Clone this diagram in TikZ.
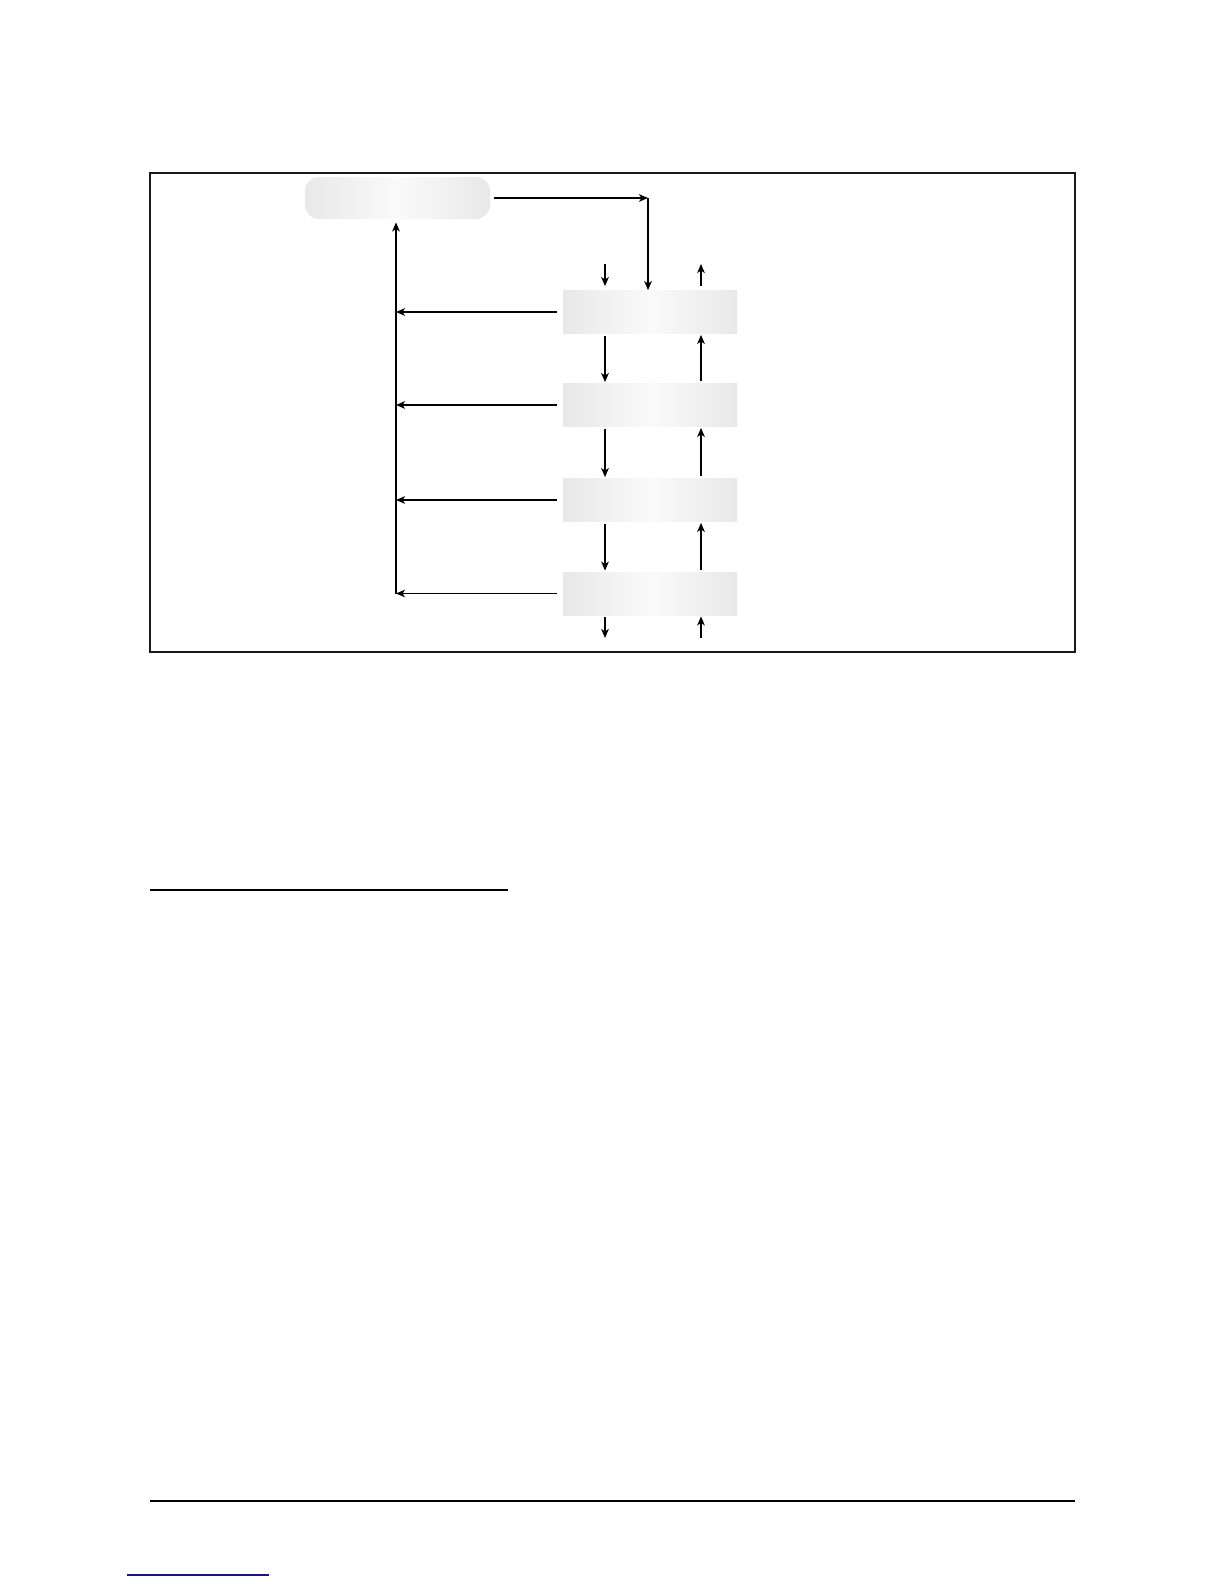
\documentclass[tikz,border=0pt]{standalone}
\usetikzlibrary{arrows.meta,shadings}
\begin{document}
\begin{tikzpicture}[x=0.5pt,y=-0.5pt,
  arr/.style={line width=0.6pt,-{Stealth[length=4.5pt,width=3.8pt,inset=1.2pt]}},
  ln/.style={line width=0.6pt},
  stagebox/.style={draw=none,minimum width=87pt,minimum height=21.5pt,inner sep=0pt,
    left color=black!9,right color=black!9,middle color=black!2},
  topbox/.style={draw=none,rounded corners=7pt,minimum width=92.5pt,minimum height=21pt,inner sep=0pt,
    left color=black!9,right color=black!9,middle color=black!2},
  framebox/.style={line width=1pt,draw=black!90}
]
\useasboundingbox (0,0) rectangle (1224,1584);
\fill[white] (0,0) rectangle (1224,1584);

% frame
\draw[framebox] (150,172.7) rectangle (1075,651.7);

% nodes
\node[topbox] (top) at (397.5,198) {};
\node[stagebox] (b1) at (650,312) {};
\node[stagebox] (b2) at (650,405) {};
\node[stagebox] (b3) at (650,500) {};
\node[stagebox] (b4) at (650,593.5) {};

% helper coordinates
\coordinate (lx) at (605,0);
\coordinate (rx) at (701,0);
\coordinate (lv) at (396,593.5);
\coordinate (tr) at (648,198);
\coordinate (inL) at (605,264);
\coordinate (outR) at (701,264);
\coordinate (botL) at (605,638);
\coordinate (botR) at (701,638);

% top box to first stage
\draw[arr] ([xshift=2pt]top.east) -- (tr);
\draw[arr] (tr) -- (b1.north -| tr);

% external in/out at top of first stage
\draw[arr] (inL) -- ([yshift=2pt]b1.north -| lx);
\draw[arr] ([yshift=2pt]b1.north -| rx) -- (outR);

% between stages
\draw[arr,shorten <=1pt,shorten >=0.5pt] (b1.south -| lx) -- (b2.north -| lx);
\draw[arr,shorten <=1pt,shorten >=0.5pt] (b2.north -| rx) -- (b1.south -| rx);
\draw[arr,shorten <=1pt,shorten >=0.5pt] (b2.south -| lx) -- (b3.north -| lx);
\draw[arr,shorten <=1pt,shorten >=0.5pt] (b3.north -| rx) -- (b2.south -| rx);
\draw[arr,shorten <=1pt,shorten >=0.5pt] (b3.south -| lx) -- (b4.north -| lx);
\draw[arr,shorten <=1pt,shorten >=0.5pt] (b4.north -| rx) -- (b3.south -| rx);

% external at bottom of last stage
\draw[arr,shorten <=1pt] (b4.south -| lx) -- (botL);
\draw[arr,shorten >=0.5pt] (botR) -- (b4.south -| rx);

% feedback to top box
\draw[arr] ([xshift=-3pt]b1.west) -- (b1.west -| lv);
\draw[arr] ([xshift=-3pt]b2.west) -- (b2.west -| lv);
\draw[arr] ([xshift=-3pt]b3.west) -- (b3.west -| lv);
\draw[arr] ([xshift=-3pt]b4.west) -- (lv);
\draw[arr,shorten >=1.5pt] (lv) -- (top.south -| lv);

% page rules
\draw[line width=1.1pt] (150,890) -- (508,890);
\draw[line width=0.6pt] (150,1501) -- (1075,1501);
\draw[line width=0.6pt,draw={rgb,255:red,25;green,25;blue,120}] (127,1575) -- (269,1575);
\end{tikzpicture}
\end{document}
